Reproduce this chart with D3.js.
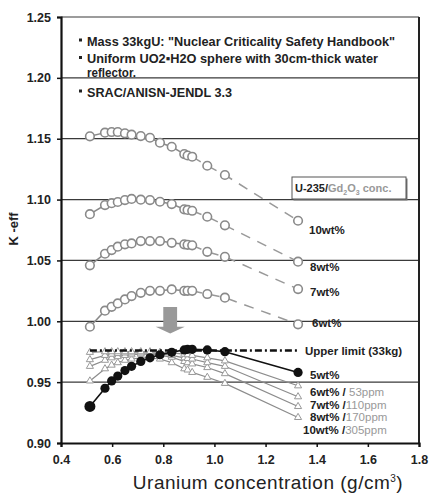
<!DOCTYPE html>
<html>
<head>
<meta charset="utf-8">
<script src="https://cdn.jsdelivr.net/npm/d3@7"></script>
<style>
  body { margin: 0; background: #fff; }
  svg text { font-family: "Liberation Sans", Arial, sans-serif; }
</style>
</head>
<body>
<div id="chart"></div>
<script>
// uranium concentration (g/cm3) of each calculated point
var conc = [0.513, 0.572, 0.598, 0.622, 0.650, 0.676, 0.712, 0.748, 0.787, 0.833, 0.882, 0.895, 0.913, 0.972, 1.041, 1.327];

// no Gd2O3 (open circles)
var k10 = [1.152, 1.155, 1.1555, 1.1555, 1.1544, 1.1533, 1.1522, 1.1508, 1.1467, 1.1434, 1.1374, 1.1362, 1.1352, 1.1278, 1.1202, 1.0826];
var k8  = [1.088, 1.0955, 1.097, 1.098, 1.0996, 1.1005, 1.0999, 1.0996, 1.0982, 1.0963, 1.092, 1.0915, 1.0908, 1.0859, 1.0788, 1.049];
var k7  = [1.046, 1.0555, 1.0585, 1.0613, 1.0632, 1.064, 1.0659, 1.0659, 1.0659, 1.0645, 1.0632, 1.0628, 1.0624, 1.0571, 1.053, 1.0265];
var k6  = [0.9955, 1.0087, 1.0119, 1.0147, 1.018, 1.0207, 1.0234, 1.025, 1.025, 1.0262, 1.025, 1.025, 1.025, 1.0224, 1.0194, 0.9975];

// 5wt% (black) and with Gd2O3 (triangles)
var k5    = [0.930, 0.945, 0.951, 0.955, 0.9595, 0.963, 0.967, 0.970, 0.9725, 0.9745, 0.9765, 0.977, 0.977, 0.9765, 0.975, 0.958];
var k6gd  = [0.9745, 0.975, 0.975, 0.975, 0.975, 0.975, 0.975, 0.975, 0.9745, 0.974, 0.973, 0.9725, 0.972, 0.970, 0.9675, 0.947];
var k7gd  = [0.9685, 0.972, 0.973, 0.9735, 0.974, 0.974, 0.974, 0.974, 0.9735, 0.972, 0.970, 0.9695, 0.969, 0.966, 0.963, 0.938];
var k8gd  = [0.963, 0.968, 0.970, 0.971, 0.972, 0.9725, 0.973, 0.973, 0.972, 0.9705, 0.967, 0.966, 0.965, 0.962, 0.957, 0.930];
var k10gd = [0.951, 0.961, 0.964, 0.966, 0.968, 0.969, 0.970, 0.970, 0.969, 0.966, 0.961, 0.960, 0.958, 0.954, 0.949, 0.921];

var upperLimit = 0.976;
var limitRange = [0.513, 1.327];

var xTicks = [0.4, 0.6, 0.8, 1.0, 1.2, 1.4, 1.6, 1.8];
var yTicks = [0.90, 0.95, 1.00, 1.05, 1.10, 1.15, 1.20, 1.25];

var notes = [
    {text: "Mass 33kgU: \"Nuclear Criticality Safety Handbook\"", y: 45.5, len: 308, bullet: true},
    {text: "Uniform UO2\u25AAH2O sphere with 30cm-thick water", y: 63, len: 291, bullet: true},
    {text: "reflector.", y: 76.5, len: 49, bullet: false},
    {text: "SRAC/ANISN-JENDL 3.3", y: 96.5, len: 145, bullet: true}
];

var W = 429, H = 499;
var pLeft = 61, pRight = 419, pTop = 17, pBottom = 443;

var svg = d3.select("#chart").append("svg")
    .attr("width", W)
    .attr("height", H);

var x = d3.scaleLinear().domain([0.4, 1.8]).range([pLeft, pRight]);
var y = d3.scaleLinear().domain([0.90, 1.25]).range([pBottom, pTop]);

// grid lines
svg.append("g").selectAll("line")
    .data(yTicks.slice(1))
    .enter().append("line")
    .attr("x1", pLeft).attr("x2", pRight)
    .attr("y1", d => y(d)).attr("y2", d => y(d))
    .attr("stroke", "#3a3a3a")
    .attr("stroke-width", 1.2);

// right border
svg.append("line")
    .attr("x1", pRight).attr("x2", pRight)
    .attr("y1", pTop).attr("y2", pBottom)
    .attr("stroke", "#222").attr("stroke-width", 2);

// axes
var yAxis = svg.append("g")
    .attr("transform", "translate(" + pLeft + ",0)")
    .call(d3.axisLeft(y).tickValues(yTicks).tickSize(4).tickPadding(6).tickFormat(d3.format(".2f")));
var xAxis = svg.append("g")
    .attr("transform", "translate(0," + pBottom + ")")
    .call(d3.axisBottom(x).tickValues(xTicks).tickSize(4).tickPadding(8).tickFormat(d3.format(".1f")));

[yAxis, xAxis].forEach(function(a) {
    a.select(".domain").attr("stroke", "#111").attr("stroke-width", 2.2);
    a.selectAll(".tick line").attr("stroke", "#111").attr("stroke-width", 1.5);
    a.selectAll(".tick text")
        .attr("fill", "#222")
        .style("font-size", "12.5px")
        .style("font-weight", "bold");
});

svg.append("text")
    .attr("transform", "translate(18,229) rotate(-90)")
    .attr("text-anchor", "middle")
    .attr("fill", "#222")
    .style("font-size", "13px")
    .style("font-weight", "bold")
    .text("K -eff");

var xlab = svg.append("text")
    .attr("x", 268).attr("y", 489)
    .attr("text-anchor", "middle")
    .attr("fill", "#222")
    .style("font-size", "19px")
    .style("letter-spacing", "0.5px");
xlab.append("tspan").text("Uranium concentration (g/cm");
xlab.append("tspan").attr("dy", -7).style("font-size", "10px").text("3");
xlab.append("tspan").attr("dy", 7).text(")");

// notes at top
var noteG = svg.append("g");
notes.forEach(function(n) {
    noteG.append("text")
        .attr("x", 87).attr("y", n.y)
        .attr("textLength", n.len)
        .attr("lengthAdjust", "spacingAndGlyphs")
        .attr("fill", "#222")
        .style("font-size", "13px")
        .style("font-weight", "bold")
        .text(n.text);
    if (n.bullet) {
        noteG.append("rect")
            .attr("x", 79).attr("y", n.y - 7)
            .attr("width", 3).attr("height", 3)
            .attr("fill", "#222");
    }
});

var line = d3.line().x(d => x(d[0])).y(d => y(d[1]));
function pts(vals) { return conc.map((c, i) => [c, vals[i]]); }

// open circle series: solid then dashed tail
var grey = "#8a8a8a";
[k10, k8, k7, k6].forEach(function(vals) {
    var p = pts(vals);
    svg.append("path").attr("d", line(p.slice(0, 13)))
        .attr("fill", "none").attr("stroke", grey).attr("stroke-width", 1.5);
    svg.append("path").attr("d", line(p.slice(12)))
        .attr("fill", "none").attr("stroke", "#999").attr("stroke-width", 1.5)
        .attr("stroke-dasharray", "10,8");
    svg.append("g").selectAll("circle")
        .data(p).enter().append("circle")
        .attr("cx", d => x(d[0])).attr("cy", d => y(d[1]))
        .attr("r", 4.3)
        .attr("fill", "#fff").attr("stroke", grey).attr("stroke-width", 1.6);
});

// Gd series
var tri = d3.symbol().type(d3.symbolTriangle).size(22);
[k10gd, k8gd, k7gd, k6gd].forEach(function(vals) {
    var p = pts(vals);
    svg.append("path").attr("d", line(p))
        .attr("fill", "none").attr("stroke", "#8c8c8c").attr("stroke-width", 1.2);
    svg.append("g").selectAll("path")
        .data(p).enter().append("path")
        .attr("d", tri)
        .attr("transform", d => "translate(" + x(d[0]) + "," + y(d[1]) + ")")
        .attr("fill", "#fff").attr("stroke", "#999").attr("stroke-width", 1);
});

// upper limit
svg.append("line")
    .attr("x1", x(limitRange[0])).attr("x2", x(limitRange[1]))
    .attr("y1", y(upperLimit)).attr("y2", y(upperLimit))
    .attr("stroke", "#111").attr("stroke-width", 2.5)
    .attr("stroke-dasharray", "7,3,2,3");

// 5wt%
var p5 = pts(k5);
svg.append("path").attr("d", line(p5))
    .attr("fill", "none").attr("stroke", "#111").attr("stroke-width", 1.6);
svg.append("g").selectAll("circle")
    .data(p5).enter().append("circle")
    .attr("cx", d => x(d[0])).attr("cy", d => y(d[1]))
    .attr("r", (d, i) => i === 0 ? 5.5 : 4.6)
    .attr("fill", "#111");

// arrow
var ax = 0.827;
var arrow = [[ax - 0.027, 1.0118], [ax + 0.027, 1.0118], [ax + 0.027, 0.9955], [ax + 0.057, 0.9955],
             [ax, 0.9900], [ax - 0.057, 0.9955], [ax - 0.027, 0.9955]];
svg.append("path")
    .attr("d", d3.line().x(d => x(d[0])).y(d => y(d[1]))(arrow) + "Z")
    .attr("fill", "#999");

// legend box
var box = svg.append("g").attr("transform", "translate(292,177)");
box.append("rect").attr("x", 1.5).attr("y", 1.5).attr("width", 114).attr("height", 22).attr("fill", "#777");
box.append("rect").attr("width", 114).attr("height", 22)
    .attr("fill", "#fff").attr("stroke", "#555").attr("stroke-width", 1);
var bt = box.append("text").attr("x", 3).attr("y", 15)
    .style("font-size", "11px").style("font-weight", "bold");
bt.append("tspan").attr("fill", "#222").text("U-235/");
bt.append("tspan").attr("fill", "#999").text("Gd");
bt.append("tspan").attr("fill", "#999").attr("dy", 3).style("font-size", "7px").text("2");
bt.append("tspan").attr("fill", "#999").attr("dy", -3).text("O");
bt.append("tspan").attr("fill", "#999").attr("dy", 3).style("font-size", "7px").text("3");
bt.append("tspan").attr("fill", "#999").attr("dy", -3).text(" conc.");

// right-hand labels
var labels = [
    {t: "10wt%", x: 309, y: 234},
    {t: "8wt%", x: 310, y: 271},
    {t: "7wt%", x: 310, y: 295.5},
    {t: "6wt%", x: 312, y: 327},
    {t: "Upper limit (33kg)", x: 305, y: 354.5},
    {t: "5wt%", x: 310, y: 379}
];
svg.append("g").selectAll("text")
    .data(labels).enter().append("text")
    .attr("x", d => d.x).attr("y", d => d.y)
    .attr("fill", "#222")
    .style("font-size", "11.5px").style("font-weight", "bold")
    .text(d => d.t);

var gdLabels = [
    {a: "6wt%", s: "  /  ", b: "53ppm", x: 310, y: 396},
    {a: "7wt%", s: "  /", b: "110ppm", x: 310, y: 408.5},
    {a: "8wt%", s: "  /", b: "170ppm", x: 310, y: 421},
    {a: "10wt%", s: " /", b: "305ppm", x: 303, y: 434}
];
gdLabels.forEach(function(d) {
    var t = svg.append("text").attr("x", d.x).attr("y", d.y)
        .style("font-size", "11.5px").style("font-weight", "bold");
    t.append("tspan").attr("fill", "#222").text(d.a);
    t.append("tspan").attr("fill", "#222").text(d.s);
    t.append("tspan").attr("fill", "#999").style("font-weight", "normal").text(d.b);
});
</script>
</body>
</html>
